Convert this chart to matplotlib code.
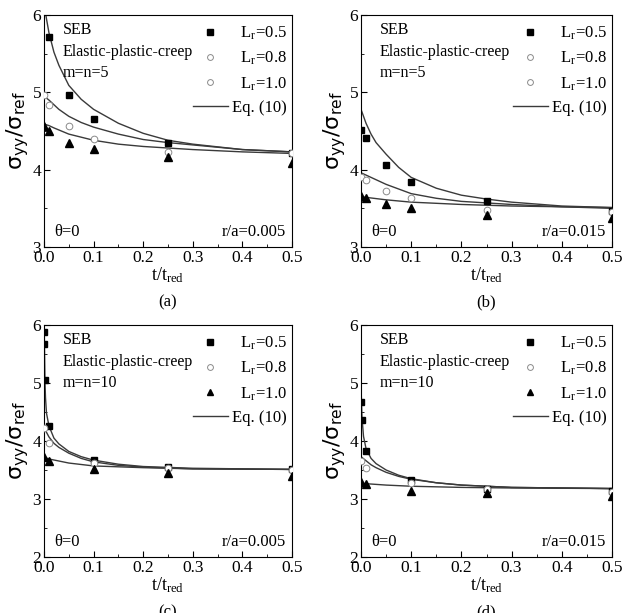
import matplotlib
matplotlib.use('Agg')
import matplotlib.pyplot as plt
from matplotlib.lines import Line2D

plt.rcParams['font.family'] = ['Liberation Serif', 'DejaVu Serif']
plt.rcParams['mathtext.fontset'] = 'stix'

# ---- data ----
# panel (a): m=n=5, r/a=0.005
a_t = [0.0, 0.01, 0.05, 0.1, 0.25, 0.5]
a_sq_t = [0.01, 0.05, 0.1, 0.25, 0.5]
a_sq = [5.71, 4.97, 4.66, 4.35, 4.21]
a_ci = [4.97, 4.84, 4.56, 4.40, 4.23, 4.21]
a_tr = [4.56, 4.50, 4.35, 4.27, 4.17, 4.09]
a_c1_t = [0.0, 0.005, 0.01, 0.02, 0.03, 0.05, 0.075, 0.1, 0.15, 0.2, 0.25, 0.3, 0.4, 0.5]
a_c1 = [6.15, 5.95, 5.77, 5.52, 5.35, 5.09, 4.91, 4.78, 4.60, 4.47, 4.38, 4.33, 4.26, 4.23]
a_c2_t = [0.0, 0.01, 0.02, 0.03, 0.05, 0.075, 0.1, 0.15, 0.2, 0.25, 0.3, 0.4, 0.5]
a_c2 = [4.95, 4.90, 4.84, 4.78, 4.69, 4.61, 4.55, 4.46, 4.39, 4.35, 4.32, 4.26, 4.23]
a_c3_t = [0.0, 0.01, 0.02, 0.05, 0.1, 0.15, 0.2, 0.3, 0.4, 0.5]
a_c3 = [4.59, 4.57, 4.54, 4.46, 4.38, 4.33, 4.30, 4.26, 4.23, 4.21]

# panel (b): m=n=5, r/a=0.015
b_t = [0.0, 0.01, 0.05, 0.1, 0.25, 0.5]
b_sq = [4.51, 4.41, 4.06, 3.84, 3.59, 3.46]
b_ci = [3.91, 3.87, 3.73, 3.63, 3.48, 3.45]
b_tr = [3.66, 3.64, 3.56, 3.50, 3.41, 3.37]
b_c1_t = [0.0, 0.01, 0.02, 0.03, 0.05, 0.075, 0.1, 0.15, 0.2, 0.25, 0.3, 0.4, 0.5]
b_c1 = [4.78, 4.60, 4.46, 4.35, 4.20, 4.03, 3.90, 3.76, 3.67, 3.62, 3.58, 3.53, 3.51]
b_c2_t = [0.0, 0.01, 0.02, 0.05, 0.1, 0.15, 0.2, 0.25, 0.3, 0.4, 0.5]
b_c2 = [3.96, 3.93, 3.90, 3.81, 3.69, 3.63, 3.59, 3.57, 3.55, 3.52, 3.51]
b_c3_t = [0.0, 0.05, 0.1, 0.2, 0.3, 0.4, 0.5]
b_c3 = [3.65, 3.61, 3.58, 3.55, 3.53, 3.52, 3.50]

# panel (c): m=n=10, r/a=0.005
c_sq_t = [0.0, 0.001, 0.002, 0.01, 0.1, 0.25, 0.5]
c_sq = [5.88, 5.68, 5.05, 4.26, 3.68, 3.56, 3.51]
c_ci_t = [0.0, 0.01, 0.1, 0.25, 0.5]
c_ci = [4.22, 3.96, 3.62, 3.53, 3.50]
c_tr_t = [0.0, 0.01, 0.1, 0.25, 0.5]
c_tr = [3.73, 3.66, 3.52, 3.45, 3.40]
c_c1_t = [0.0, 0.001, 0.002, 0.003, 0.005, 0.01, 0.02, 0.03, 0.05, 0.075, 0.1, 0.15, 0.2, 0.3, 0.4, 0.5]
c_c1 = [6.3, 5.6, 5.0, 4.75, 4.48, 4.26, 4.05, 3.95, 3.82, 3.73, 3.67, 3.60, 3.56, 3.53, 3.52, 3.51]
c_c2_t = [0.0, 0.005, 0.01, 0.02, 0.03, 0.05, 0.075, 0.1, 0.15, 0.2, 0.3, 0.5]
c_c2 = [4.27, 4.15, 4.07, 3.96, 3.89, 3.79, 3.70, 3.64, 3.58, 3.55, 3.52, 3.51]
c_c3_t = [0.0, 0.01, 0.05, 0.1, 0.2, 0.3, 0.5]
c_c3 = [3.72, 3.69, 3.62, 3.57, 3.54, 3.52, 3.51]

# panel (d): m=n=10, r/a=0.015
d_sq_t = [0.0, 0.002, 0.01, 0.1, 0.25, 0.5]
d_sq = [4.68, 4.36, 3.82, 3.32, 3.18, 3.14]
d_ci_t = [0.0, 0.01, 0.1, 0.25, 0.5]
d_ci = [3.65, 3.53, 3.28, 3.17, 3.12]
d_tr_t = [0.0, 0.01, 0.1, 0.25, 0.5]
d_tr = [3.29, 3.26, 3.14, 3.10, 3.06]
d_c1_t = [0.0, 0.002, 0.005, 0.01, 0.02, 0.03, 0.05, 0.075, 0.1, 0.15, 0.2, 0.3, 0.4, 0.5]
d_c1 = [4.95, 4.40, 4.08, 3.87, 3.70, 3.61, 3.50, 3.41, 3.35, 3.28, 3.24, 3.20, 3.19, 3.18]
d_c2_t = [0.0, 0.01, 0.02, 0.03, 0.05, 0.075, 0.1, 0.15, 0.2, 0.3, 0.5]
d_c2 = [3.73, 3.66, 3.59, 3.54, 3.46, 3.39, 3.34, 3.28, 3.24, 3.20, 3.18]
d_c3_t = [0.0, 0.05, 0.1, 0.2, 0.3, 0.5]
d_c3 = [3.27, 3.24, 3.22, 3.20, 3.19, 3.18]

legend_labels = ['  L$_\\mathregular{r}$=0.5', '  L$_\\mathregular{r}$=0.8', '  L$_\\mathregular{r}$=1.0', 'Eq. (10)']

W, H = 623, 613
fig = plt.figure(figsize=(W / 100, H / 100), dpi=100)

line_col = '#3a3a3a'
circ_col = '#8a8a8a'


def panel(rect, ymin, sq_t, sq, ci_t, ci, tr_t, tr, curves, mn, ra, tag, tri_legend):
    l, t, r, b = rect
    ax = fig.add_axes([l / W, 1 - b / H, (r - l) / W, (b - t) / H])
    for ct, cv in curves:
        ax.plot(ct, cv, color=line_col, lw=1.0)
    ax.plot(sq_t, sq, 's', color='black', ms=4.2, zorder=3)
    ax.plot(ci_t, ci, 'o', mfc='white', mec=circ_col, mew=0.7, ms=4.8, zorder=3)
    ax.plot(tr_t, tr, '^', color='black', ms=5.2, zorder=3)
    ax.set_xlim(0, 0.5)
    ax.set_ylim(ymin, 6)
    ax.set_xticks([0.0, 0.1, 0.2, 0.3, 0.4, 0.5])
    ax.set_xticklabels(['0.0', '0.1', '0.2', '0.3', '0.4', '0.5'])
    ax.set_yticks(range(ymin, 7))
    ax.set_xticks([0.05, 0.15, 0.25, 0.35, 0.45], minor=True)
    ax.set_yticks([v + 0.5 for v in range(ymin, 6)], minor=True)
    ax.tick_params(direction='in', labelsize=12.5, length=4, width=0.8, pad=2)
    ax.tick_params(which='minor', direction='in', length=2, width=0.6)
    for s in ax.spines.values():
        s.set_linewidth(0.8)
    ax.set_xlabel(r'$\mathregular{t/t_{red}}$', fontsize=13, labelpad=0)
    ax.set_ylabel(r'$\mathrm{\sigma_{yy}/\sigma_{ref}}$', fontsize=16, labelpad=1,
                  math_fontfamily='dejavusans')
    ax.text(0.075, 0.971, 'SEB', transform=ax.transAxes, fontsize=11.5, va='top')
    ax.text(0.075, 0.874, 'Elastic-plastic-creep', transform=ax.transAxes, fontsize=11.5, va='top')
    ax.text(0.075, 0.785, mn, transform=ax.transAxes, fontsize=11.5, va='top')
    ax.text(0.04, 0.03, 'θ=0', transform=ax.transAxes, fontsize=12, va='bottom')
    ax.text(0.975, 0.03, ra, transform=ax.transAxes, fontsize=12, va='bottom', ha='right')
    if tri_legend:
        third = Line2D([], [], ls='none', marker='^', color='black', ms=4.5)
    else:
        third = Line2D([], [], ls='none', marker='o', mfc='white', mec=circ_col, mew=0.7, ms=4.2)
    handles = [Line2D([], [], ls='none', marker='s', color='black', ms=3.8),
               Line2D([], [], ls='none', marker='o', mfc='white', mec=circ_col, mew=0.7, ms=4.2),
               third,
               Line2D([], [], color=line_col, lw=1.0)]
    ax.legend(handles, legend_labels, loc='upper right', frameon=False, fontsize=12,
              handlelength=2.1, handletextpad=0.25, labelspacing=0.46,
              borderaxespad=0.0, borderpad=0.3, bbox_to_anchor=(1.0, 1.0 - 5 / 232))
    fig.text((l + r) / 2 / W, tag[1], tag[0], ha='center', va='center', fontsize=12)
    return ax


panel((44, 15, 292, 247), 3, a_sq_t, a_sq, a_t, a_ci, a_t, a_tr,
      [(a_c1_t, a_c1), (a_c2_t, a_c2), (a_c3_t, a_c3)],
      'm=n=5', 'r/a=0.005', ('(a)', 1 - 302 / H), False)
panel((361, 15, 612, 247), 3, b_t, b_sq, b_t, b_ci, b_t, b_tr,
      [(b_c1_t, b_c1), (b_c2_t, b_c2), (b_c3_t, b_c3)],
      'm=n=5', 'r/a=0.015', ('(b)', 1 - 302 / H), False)
panel((44, 325, 292, 557), 2, c_sq_t, c_sq, c_ci_t, c_ci, c_tr_t, c_tr,
      [(c_c1_t, c_c1), (c_c2_t, c_c2), (c_c3_t, c_c3)],
      'm=n=10', 'r/a=0.005', ('(c)', 1 - 612 / H), True)
panel((361, 325, 612, 557), 2, d_sq_t, d_sq, d_ci_t, d_ci, d_tr_t, d_tr,
      [(d_c1_t, d_c1), (d_c2_t, d_c2), (d_c3_t, d_c3)],
      'm=n=10', 'r/a=0.015', ('(d)', 1 - 612 / H), True)

fig.savefig('out.png', dpi=100)
